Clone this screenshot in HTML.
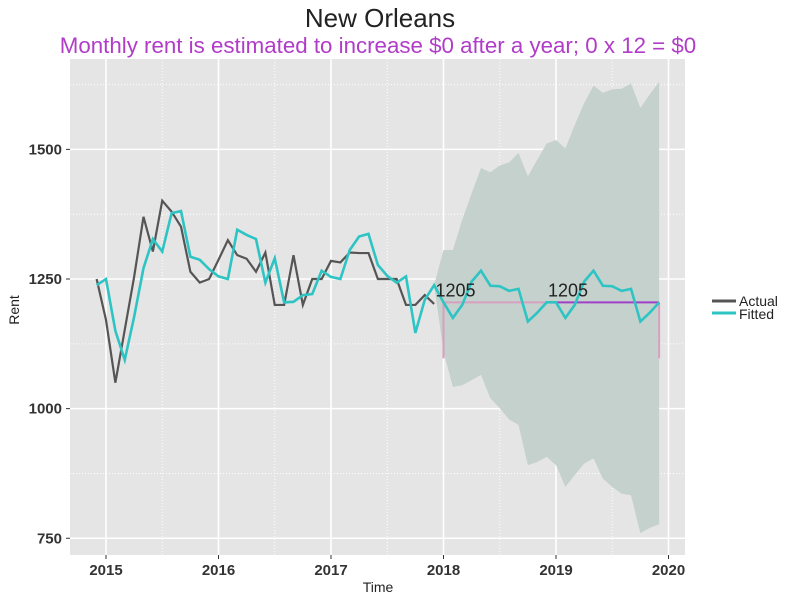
<!DOCTYPE html>
<html><head><meta charset="utf-8"><style>
body{margin:0;background:#fff;}
svg text{font-family:"Liberation Sans",Arial,sans-serif;}
</style></head><body>
<svg id="chart" width="800" height="600" xmlns="http://www.w3.org/2000/svg">
<text x="380" y="27" text-anchor="middle" font-size="26" fill="#222">New Orleans</text>
<text x="378" y="53" text-anchor="middle" font-size="22.3" fill="#b03cc8">Monthly rent is estimated to increase $0 after a year; 0 x 12 = $0</text>
<rect x="70" y="59" width="615" height="496" fill="#e5e5e5"/>
<g id="grid"></g>
<g id="marks"></g>
<g id="axes"></g>
<text x="19" y="310" text-anchor="middle" font-size="14" fill="#222" transform="rotate(-90 19 310)">Rent</text>
<text x="378" y="592" text-anchor="middle" font-size="14" fill="#222">Time</text>
<g>
<line x1="712" y1="301" x2="736" y2="301" stroke="#555" stroke-width="3"/>
<line x1="712" y1="313" x2="736" y2="313" stroke="#2ec4c4" stroke-width="3"/>
<text x="739" y="306" font-size="14" fill="#222">Actual</text>
<text x="739" y="319" font-size="14" fill="#222">Fitted</text>
</g>
</svg>
<script>
const actual=[1250,1171,1050,1152,1254,1370,1303,1401,1380,1351,1264,1243,1250,1287,1325,1296,1289,1264,1301,1200,1200,1296,1200,1250,1250,1285,1282,1301,1300,1300,1250,1250,1250,1200,1200,1219,1202];
const fittedHist=[1238,1250,1150,1094,1177,1271,1327,1303,1377,1381,1293,1287,1269,1255,1250,1345,1335,1327,1243,1290,1205,1206,1219,1221,1266,1254,1250,1306,1332,1337,1277,1256,1243,1255,1146,1210,1238];
const forecast=[1205,1175,1200,1245,1266,1237,1236,1227,1231,1168,1185,1205,1205,1175,1200,1245,1266,1237,1236,1227,1231,1168,1185,1205];
const upper=[1306,1306,1364,1415,1464,1456,1469,1475,1493,1448,1480,1511,1518,1502,1547,1589,1623,1609,1616,1617,1627,1580,1606,1630];
const lower=[1110,1042,1045,1055,1065,1020,1001,979,969,891,897,907,891,849,872,894,904,865,849,836,833,760,770,777];
const yTicks=[750,1000,1250,1500];
const xTicks=[2015,2016,2017,2018,2019,2020];
const level=1205, lowMark=1097;
const startYear=2014+11/12;

const X=t=>106+(t-2015)*112.5;
const Y=v=>279-(v-1250)*0.5185;
const mt=i=>startYear+i/12;
const NS="http://www.w3.org/2000/svg";
function mk(tag,attrs,parent){const e=document.createElementNS(NS,tag);for(const k in attrs)e.setAttribute(k,attrs[k]);document.getElementById(parent).appendChild(e);return e;}

xTicks.forEach((t,i)=>{
 let l=mk('line',{x1:X(t),x2:X(t),y1:59,y2:555,stroke:'#fff','stroke-width':1.6},'grid');
 
 
 if(i<xTicks.length-1){let m=mk('line',{x1:X(t+0.5),x2:X(t+0.5),y1:59,y2:555,stroke:'#fff','stroke-width':1,'stroke-dasharray':'1,2'},'grid');
 
 }
 let tk=mk('line',{x1:X(t),x2:X(t),y1:555,y2:559,stroke:'#333'},'axes');
 
 
 let tx=mk('text',{x:X(t),y:575,'text-anchor':'middle','font-size':15,'font-weight':'bold',fill:'#333'},'axes');
 tx.textContent=t;
 
 
});
let m0=mk('line',{x1:X(2014.5),x2:X(2014.5),y1:59,y2:555,stroke:'#fff','stroke-dasharray':'1,2'},'grid');


yTicks.forEach(v=>{
 let l=mk('line',{x1:70,x2:685,y1:Y(v),y2:Y(v),stroke:'#fff','stroke-width':1.6},'grid');
 
 
 let m=mk('line',{x1:70,x2:685,y1:Y(v+125),y2:Y(v+125),stroke:'#fff','stroke-dasharray':'1,2'},'grid');
 
 
 let tk=mk('line',{x1:66,x2:70,y1:Y(v),y2:Y(v),stroke:'#333'},'axes');
 
 
 let tx=mk('text',{x:62,y:Y(v)+5,'text-anchor':'end','font-size':15,'font-weight':'bold',fill:'#333'},'axes');
 tx.textContent=v;
 
 
});

const fStart=actual.length;
let up=[[X(mt(fStart-1)),Y(fittedHist[fittedHist.length-1])]].concat(upper.map((v,i)=>[X(mt(fStart+i)),Y(v)]));
let lo=lower.map((v,i)=>[X(mt(fStart+i)),Y(v)]).reverse();
let band=mk('polygon',{points:up.concat(lo).map(p=>p.join(',')).join(' '),fill:'#c4d1cc'},'marks');



const xa=X(mt(fStart)), xm=X(mt(fStart+12)), xb=X(mt(fStart+23));
let h1=mk('line',{x1:xa,x2:xm,y1:Y(level),y2:Y(level),stroke:'#d8a0c0','stroke-width':2},'marks');


let h2=mk('line',{x1:xm,x2:xb,y1:Y(level),y2:Y(level),stroke:'#a040c8','stroke-width':2},'marks');


[xa,xb].forEach(x=>{let v=mk('line',{x1:x,x2:x,y1:Y(level),y2:Y(lowMark),stroke:'#d8a0c0','stroke-width':2},'marks');
 
 });

let pa=mk('polyline',{points:actual.map((v,i)=>X(mt(i))+','+Y(v)).join(' '),fill:'none',stroke:'#555','stroke-width':2.2},'marks');


const fitted=fittedHist.concat(forecast);
let pf=mk('polyline',{points:fitted.map((v,i)=>X(mt(i))+','+Y(v)).join(' '),fill:'none',stroke:'#2ec4c4','stroke-width':2.6},'marks');



[xa,xm].forEach(x=>{let t=mk('text',{x:x-8,y:Y(level)-6,'font-size':18,fill:'#222'},'marks');
 t.textContent=level;
 
 });
</script>
</body></html>
